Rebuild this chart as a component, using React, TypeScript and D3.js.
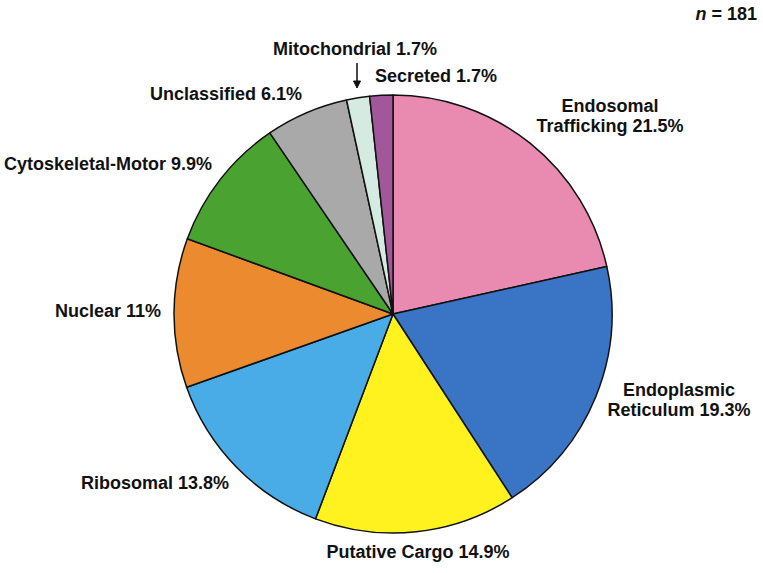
import React from 'react';
import * as d3 from 'd3';

// categories clockwise from 12 o'clock
const categories = [
  'Endosomal Trafficking',
  'Endoplasmic Reticulum',
  'Putative Cargo',
  'Ribosomal',
  'Nuclear',
  'Cytoskeletal-Motor',
  'Unclassified',
  'Mitochondrial',
  'Secreted',
];
const percents = [21.5, 19.3, 14.9, 13.8, 11, 9.9, 6.1, 1.7, 1.7];
const colors = ['#E98AB0', '#3A74C4', '#FFF21F', '#49ACE6', '#EC8A30', '#4AA330', '#A9A9A9', '#D5EBE1', '#A3579B'];

// label text lines, one entry per category
const labelLines = [
  ['Endosomal', 'Trafficking 21.5%'],
  ['Endoplasmic', 'Reticulum 19.3%'],
  ['Putative Cargo 14.9%'],
  ['Ribosomal 13.8%'],
  ['Nuclear 11%'],
  ['Cytoskeletal-Motor 9.9%'],
  ['Unclassified 6.1%'],
  ['Mitochondrial 1.7%'],
  ['Secreted 1.7%'],
];

const width = 763;
const height = 573;
const cx = 393;
const cy = 314;
const radius = 219;

// where each label sits (x, baseline y of first line, anchor)
const labelLayout: [number, number, string][] = [
  [610, 112, 'middle'],
  [679, 396, 'middle'],
  [418, 558, 'middle'],
  [229, 489, 'end'],
  [161, 317, 'end'],
  [212, 170, 'end'],
  [302, 100, 'end'],
  [355, 55, 'middle'],
  [436, 82, 'middle'],
];

export default function App() {
  const pie = d3.pie<number>().sort(null).value((d) => d);
  const arcs = pie(percents);
  const arc = d3.arc<d3.PieArcDatum<number>>().innerRadius(0).outerRadius(radius);

  return (
    <svg width={width} height={height} style={{ position: 'absolute', left: 0, top: 0, background: '#fff' }}
      fontFamily="'Liberation Sans', Arial, sans-serif" fontWeight="bold" fontSize={18}>
      <g transform={`translate(${cx},${cy})`}>
        {arcs.map((a, i) => (
          <path key={categories[i]} d={arc(a) || ''} fill={colors[i]} stroke="#111" strokeWidth={1.5} strokeLinejoin="round" />
        ))}
      </g>
      {labelLines.map((lines, i) => (
        <text key={categories[i]} x={labelLayout[i][0]} y={labelLayout[i][1]} textAnchor={labelLayout[i][2]} fill="#111">
          {lines.map((l, j) => (
            <tspan key={j} x={labelLayout[i][0]} dy={j === 0 ? 0 : 20}>{l}</tspan>
          ))}
        </text>
      ))}
      {/* arrow for the Mitochondrial slice */}
      <line x1={357} y1={63} x2={357} y2={82} stroke="#111" strokeWidth={1.5} />
      <path d="M353.5,81 L357,88 L360.5,81 Z" fill="#111" stroke="#111" strokeWidth={1} />
      <text x={757} y={20} textAnchor="end" fill="#111">
        <tspan fontStyle="italic">n</tspan> = 181
      </text>
    </svg>
  );
}
